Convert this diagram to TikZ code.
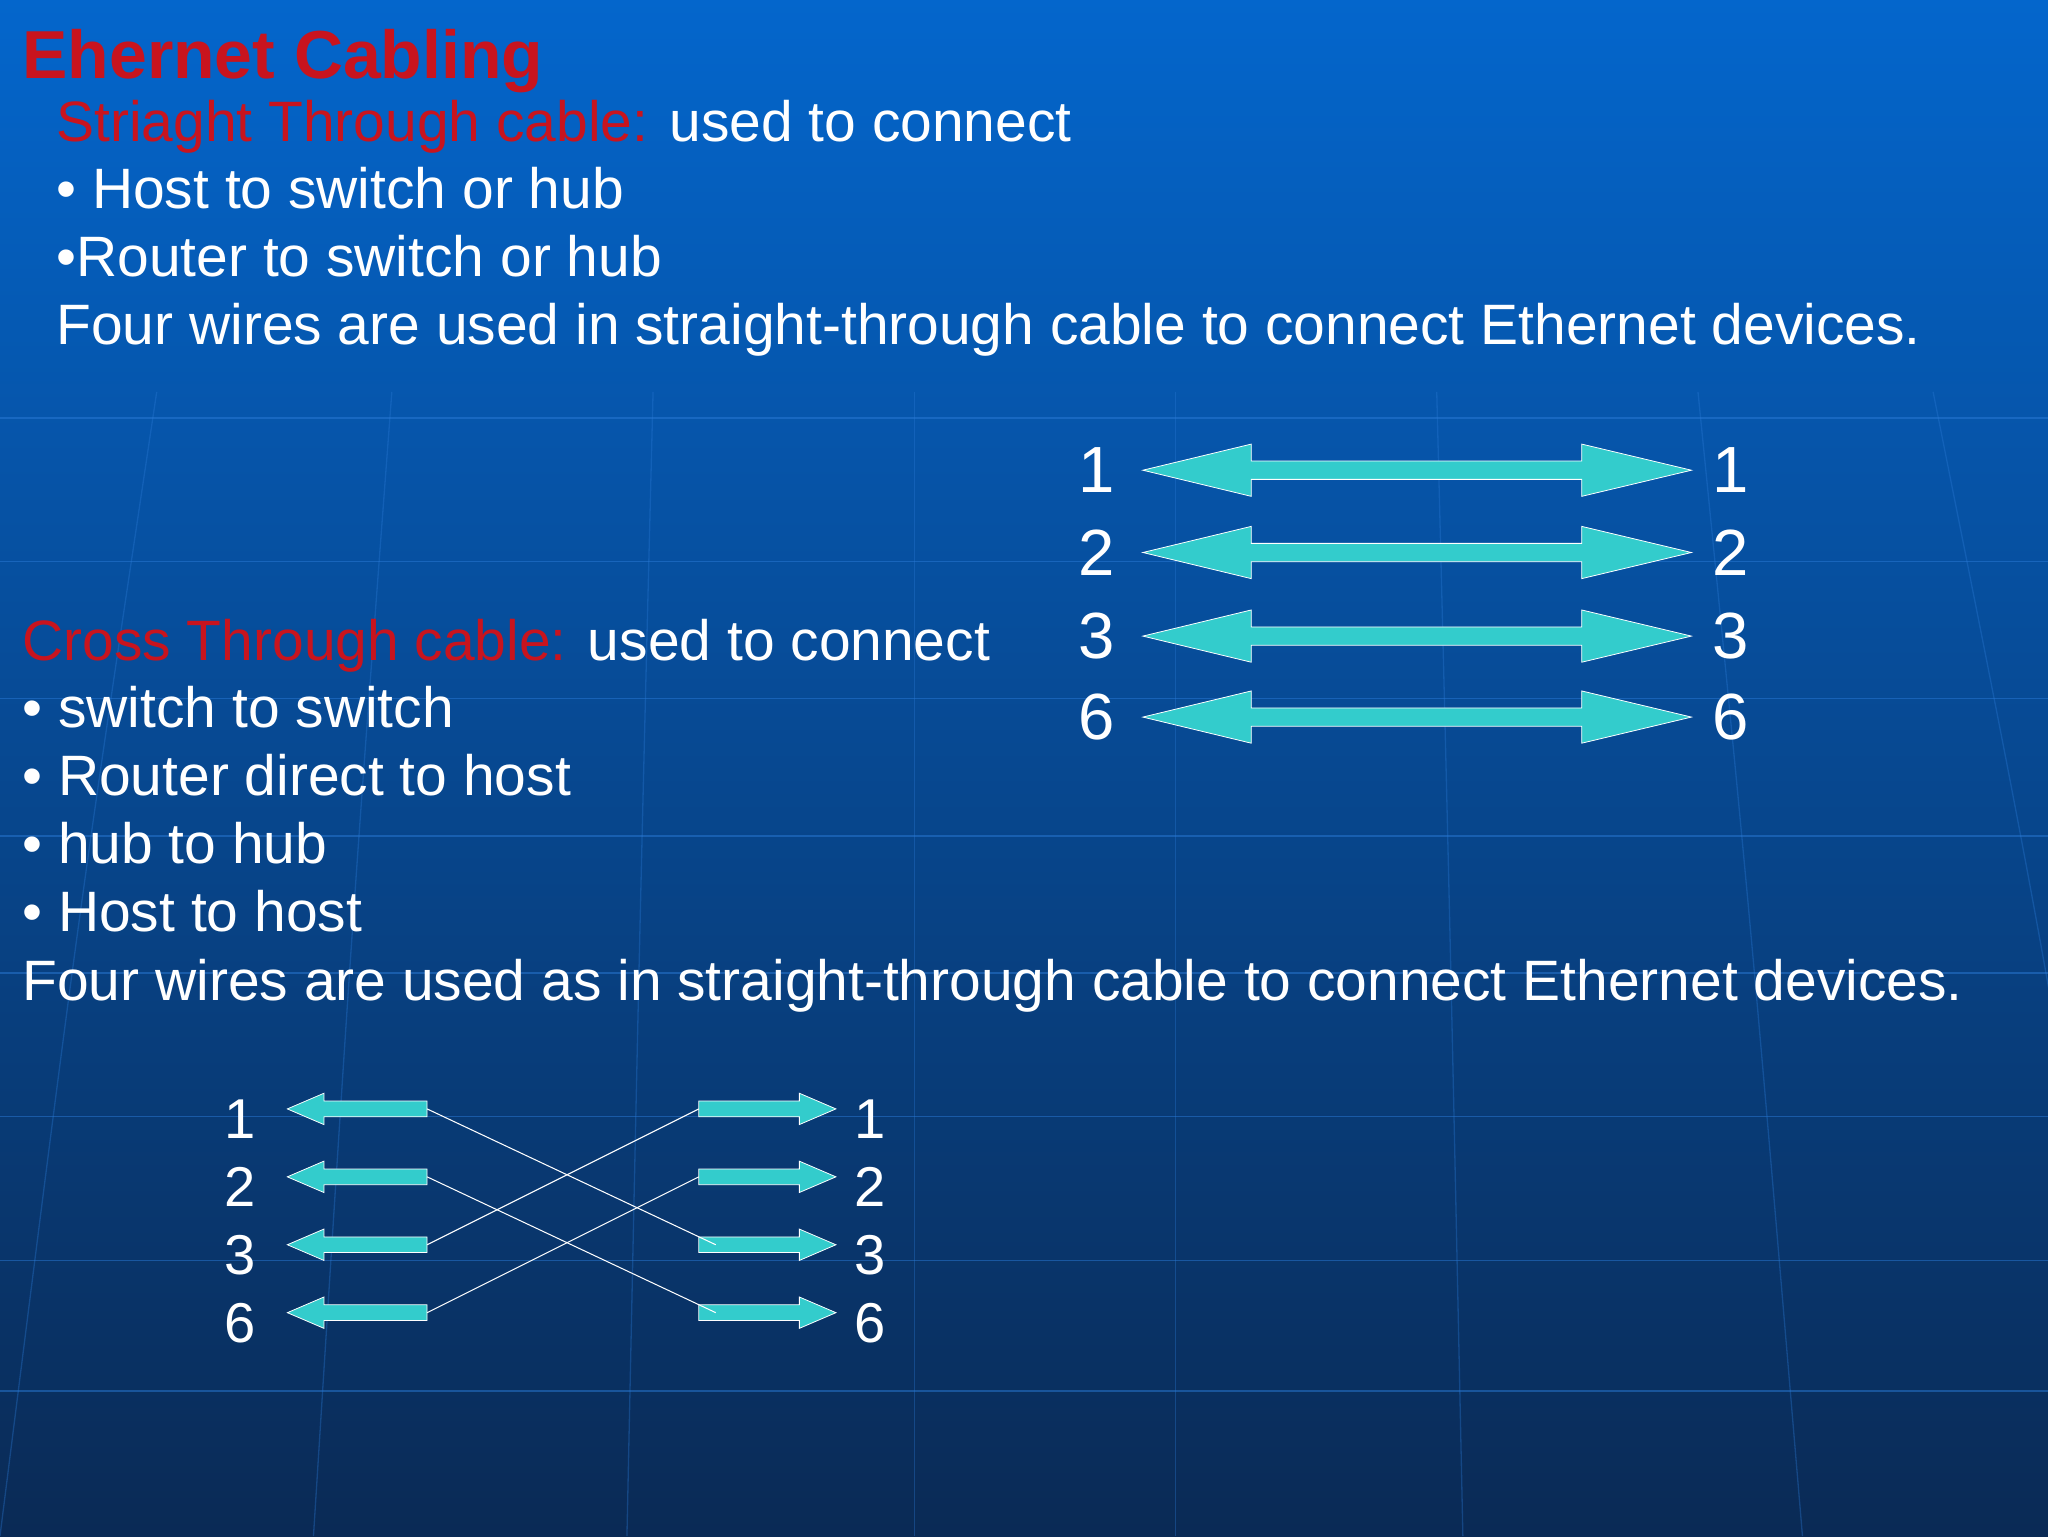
\documentclass[tikz,border=0pt]{standalone}
\usepackage{fontspec}
\setmainfont{Liberation Sans}
\definecolor{topb}{HTML}{0466CC}
\definecolor{botb}{HTML}{0A2A55}
\definecolor{gridl}{HTML}{2A7AD6}
\definecolor{cyanf}{HTML}{33CCCC}
\definecolor{redt}{HTML}{C8141E}
\begin{document}
\begin{tikzpicture}[x=1pt,y=-1pt,
  txt/.style={anchor=base west,text=white,font=\fontsize{43.6}{50}\selectfont,inner sep=0},
  num/.style={anchor=center,text=white,font=\fontsize{50}{54}\selectfont,inner sep=0},
  snum/.style={anchor=center,text=white,font=\fontsize{43}{46}\selectfont,inner sep=0},
  arr/.style={fill=cyanf,draw=white,line width=0.6pt},
  wire/.style={draw=white,line width=0.8pt}]
\useasboundingbox (0,0) rectangle (1568,1176);
\shade[top color=topb,bottom color=botb] (0,0) rectangle (1568,1176);
% faint grid
\foreach \yy in {320,430,535,640,745,855,965,1065}
  \draw[gridl,opacity=0.5,line width=1pt] (0,\yy) -- (1568,\yy);
\foreach \xx/\bb in {120/-60,300/-30,500/-10,700/0,900/0,1100/10,1300/40,1480/80}
  \draw[gridl,opacity=0.35,line width=1pt] (\xx,300) .. controls (\xx+\bb,700) .. (\xx+2*\bb,1176);
% texts
\node[anchor=base west,inner sep=0,text=redt,font=\bfseries\fontsize{52}{56}\selectfont] (title) at (17,60) {Ehernet Cabling};
\node[txt] (s1) at (43,108) {\textcolor{redt}{Striaght Through cable:} used to connect};
\node[txt] (s2) at (43,160) {• Host to switch or hub};
\node[txt] (s3) at (43,212) {•Router to switch or hub};
\node[txt] (s4) at (43,264) {Four wires are used in straight-through cable to connect Ethernet devices.};
\node[txt] (c1) at (17,506) {\textcolor{redt}{Cross Through cable:} used to connect};
\node[txt] (c2) at (17,557) {• switch to switch};
\node[txt] (c3) at (17,609) {• Router direct to host};
\node[txt] (c4) at (17,661) {• hub to hub};
\node[txt] (c5) at (17,713) {• Host to host};
\node[txt] (c6) at (17,766) {Four wires are used as in straight-through cable to connect Ethernet devices.};
% straight-through
\foreach \n/\yy in {1/360,2/423,3/487,6/549}{
  \node[num] (l\n) at (840,\yy) {\n};
  \node[num] (r\n) at (1325,\yy) {\n};
  \draw[arr] (875,\yy) -- (958,\yy-20) -- (958,\yy-7) -- (1211,\yy-7) -- (1211,\yy-20)
    -- (1295,\yy) -- (1211,\yy+20) -- (1211,\yy+7) -- (958,\yy+7) -- (958,\yy+20) -- cycle;
}
% cross-through
\foreach \n/\yy/\ty in {1/849/857,2/901/909,3/953/961,6/1005/1013}{
  \node[snum] (a\n) at (184,\ty) {\n};
  \node[snum] (b\n) at (666,\ty) {\n};
  \draw[arr] (220,\yy) -- (248,\yy-12) -- (248,\yy-6) -- (327,\yy-6) -- (327,\yy+6)
    -- (248,\yy+6) -- (248,\yy+12) -- cycle;
  \draw[arr] (640,\yy) -- (612,\yy-12) -- (612,\yy-6) -- (535,\yy-6) -- (535,\yy+6)
    -- (612,\yy+6) -- (612,\yy+12) -- cycle;
  \coordinate (L\n) at (327,\yy);
  \coordinate (R\n) at (535,\yy);
  \coordinate (RR\n) at (548,\yy);
}
\draw[wire] (L1) -- (RR3);
\draw[wire] (L2) -- (RR6);
\draw[wire] (L3) -- (R1);
\draw[wire] (L6) -- (R2);
\end{tikzpicture}
\end{document}
